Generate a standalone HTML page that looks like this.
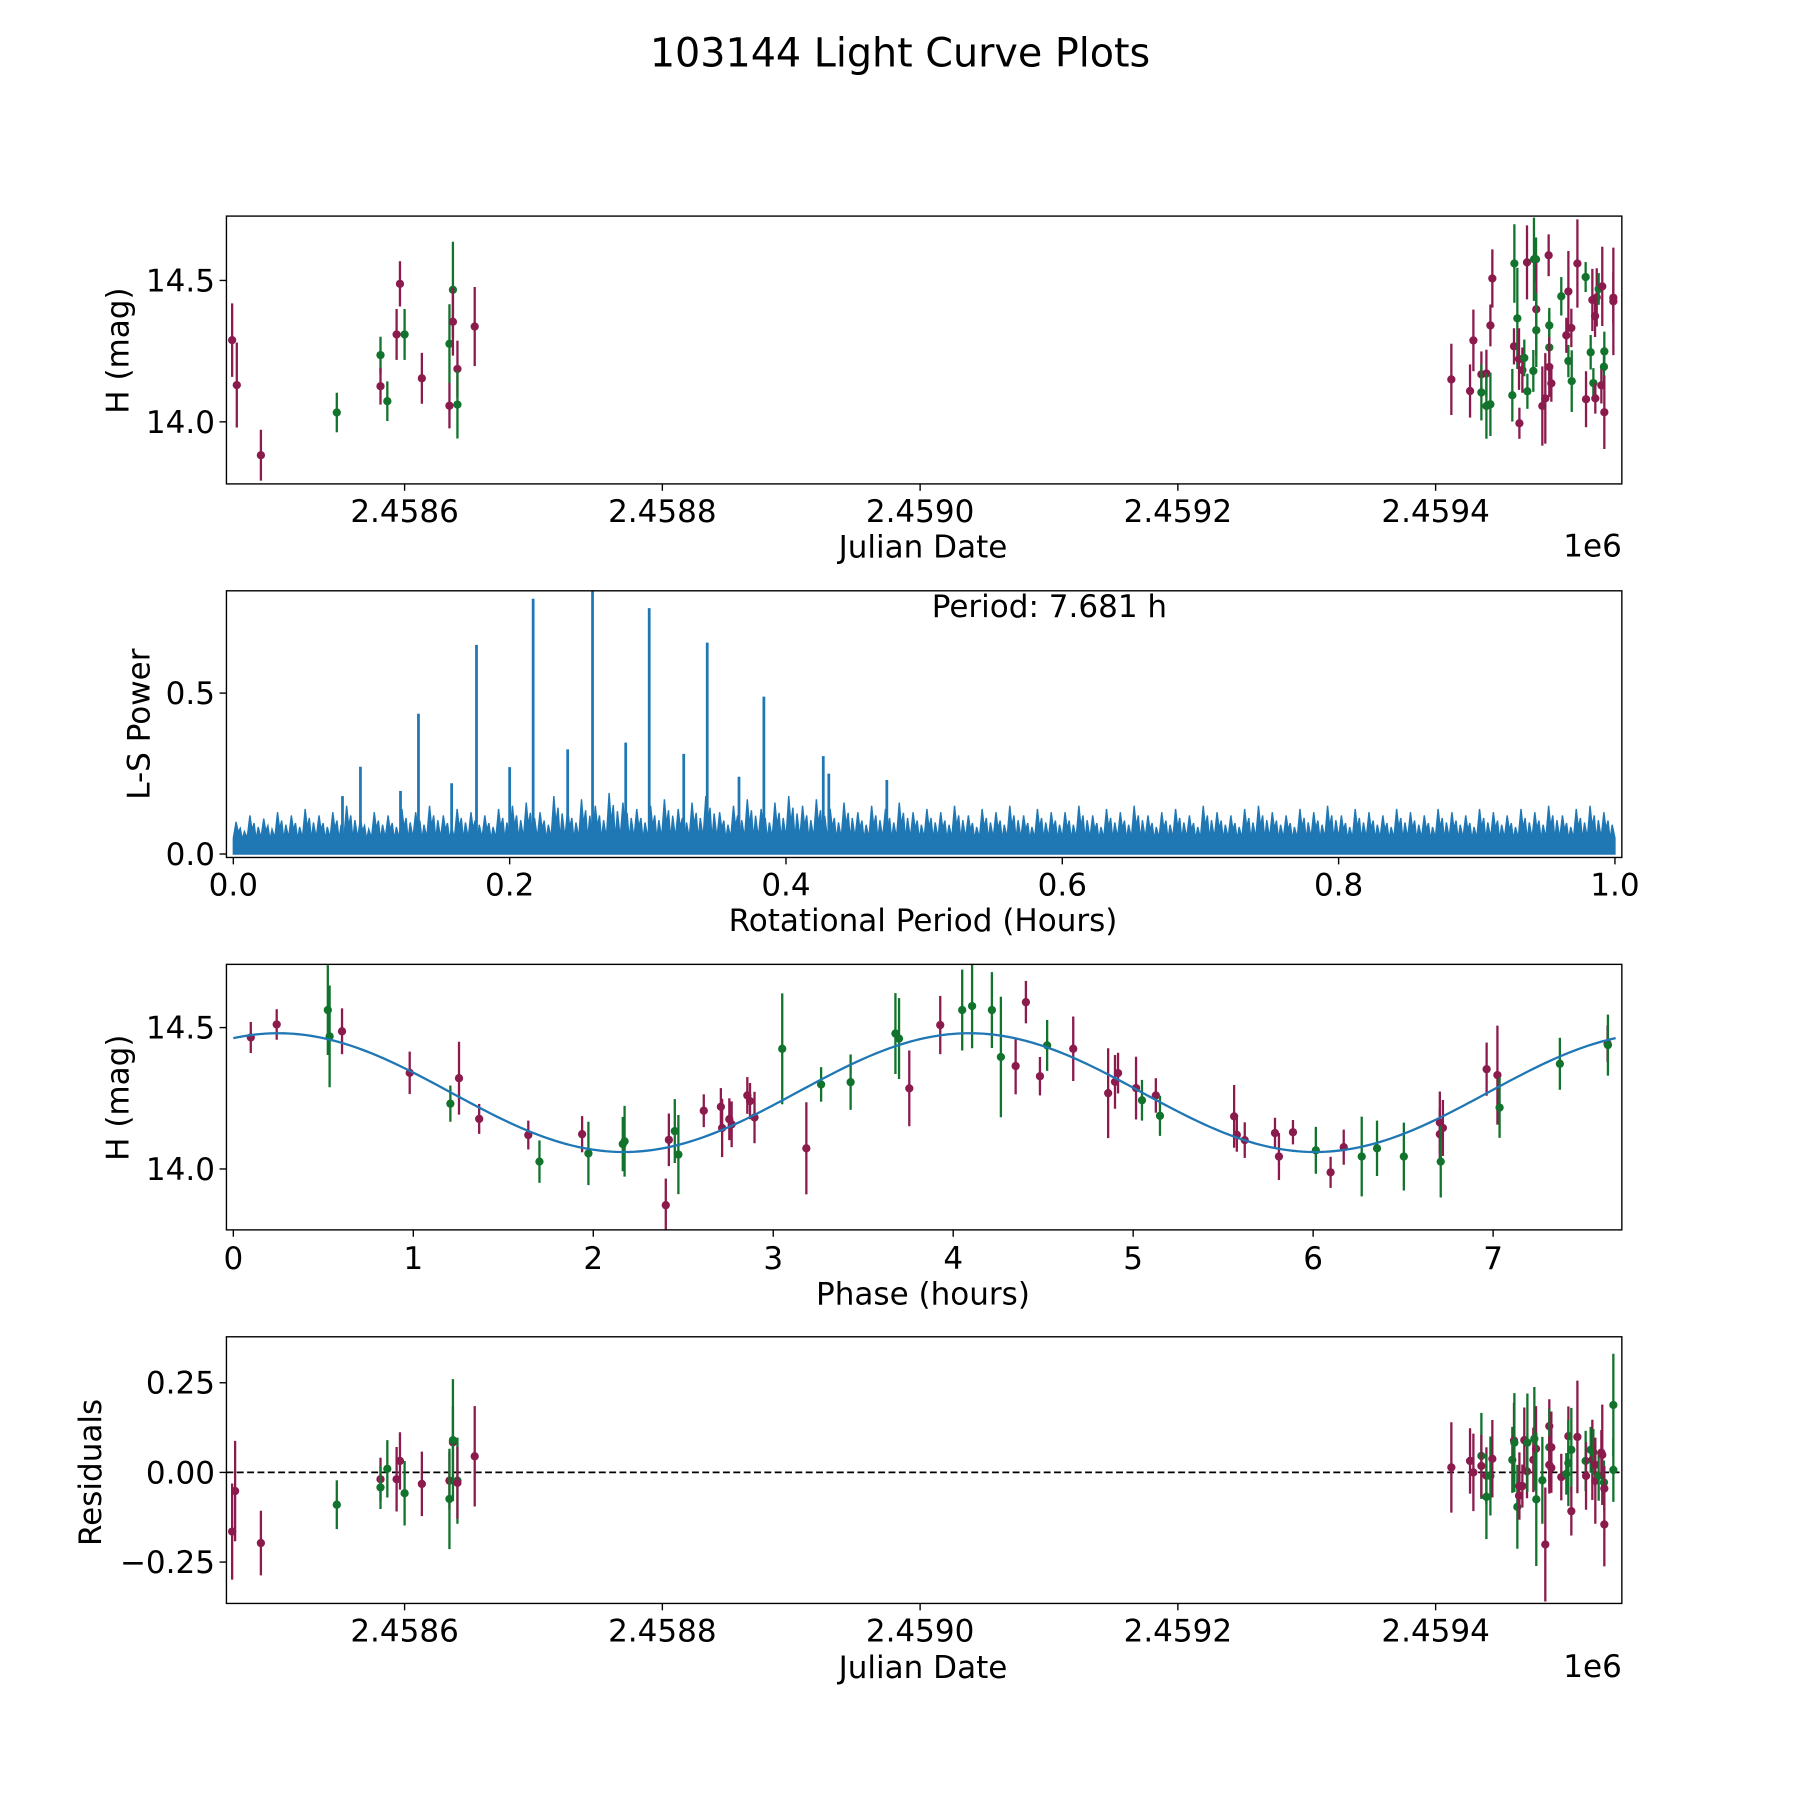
<!DOCTYPE html>
<html><head><meta charset="utf-8"><style>
html,body{margin:0;padding:0;background:#fff}
svg{display:block}
text{font-family:"DejaVu Sans","Liberation Sans",sans-serif;fill:#000}
</style></head><body>
<svg id="fig" width="1800" height="1800" viewBox="0 0 1566 1566" xmlns="http://www.w3.org/2000/svg">
<rect width="1566" height="1566" fill="#fff"/>
<text x="783" y="58" font-size="34.5" text-anchor="middle">103144 Light Curve Plots</text>
<g id="g1"></g>
<g id="g2"></g>
<g id="g3"></g>
<g id="g4"></g>
</svg>
<script>
// ---- Light curve data (panel 1)
const lcJD = [2458466.2,2458469.8,2458488.5,2458547.4,2458581.3,2458581.3,2458586.6,2458593.8,2458596.4,2458600.0,2458613.4,2458634.8,2458634.8,2458637.5,2458637.5,2458641.0,2458641.0,2458654.4,
2459412.2,2459426.7,2459429.3,2459435.5,2459435.5,2459439.4,2459439.4,2459442.5,2459442.5,2459444.0,2459459.5,2459460.8,2459461.1,2459463.4,2459464.7,2459465.0,2459467.3,2459468.8,2459470.9,2459471.2,2459475.8,2459476.3,2459477.9,2459478.1,2459478.1,2459482.8,2459485.1,2459487.7,2459488.2,2459488.2,2459488.2,2459489.8,2459497.5,2459501.4,2459503.0,2459503.0,2459505.3,2459505.6,2459510.0,2459516.4,2459516.7,2459520.3,2459521.6,2459522.4,2459523.7,2459523.9,2459525.0,2459526.5,2459528.6,2459529.3,2459530.6,2459530.9,2459530.9,2459537.9,2459537.9];
const lcMag = [14.289,14.130,13.882,14.033,14.236,14.126,14.073,14.309,14.488,14.309,14.154,14.276,14.057,14.467,14.354,14.187,14.061,14.337,
14.150,14.109,14.288,14.168,14.104,14.171,14.056,14.062,14.341,14.507,14.094,14.267,14.560,14.366,14.222,13.995,14.183,14.226,14.564,14.108,14.180,14.575,14.575,14.398,14.324,14.056,14.083,14.589,14.341,14.263,14.194,14.136,14.444,14.306,14.461,14.215,14.332,14.144,14.560,14.512,14.080,14.246,14.431,14.137,14.374,14.083,14.440,14.470,14.129,14.479,14.195,14.249,14.034,14.426,14.439];
const lcErr = [.13,.15,.09,.07,.065,.065,.07,.09,.08,.09,.09,.14,.08,.17,.12,.10,.12,.14,
.126,.094,.109,.081,.099,.084,.116,.112,.074,.103,.093,.064,.139,.179,.109,.055,.08,.065,.131,.062,.074,.147,.077,.165,.13,.14,.16,.074,.062,.127,.106,.065,.068,.062,.143,.057,.068,.109,.156,.053,.099,.061,.11,.053,.074,.054,.103,.056,.064,.14,.059,.07,.13,.19,.09];
const lcFilter = "mmmggmgmmgmgmgmmgm"+"mmmmgmggmmgmggmmmgmggggmgmmmggmmgmmgmgmgmgmgmmmgmmgg"+"m";
// ---- Periodogram data (panel 2)
const peakPeriod = [0.092,0.121,0.134,0.176,0.217,0.242,0.260,0.284,0.301,0.326,0.343,0.384,0.427,0.079,0.158,0.200,0.366,0.431,0.473];
const peakPower  = [0.271,0.196,0.436,0.650,0.793,0.325,0.821,0.346,0.764,0.311,0.657,0.489,0.304,0.18,0.22,0.27,0.24,0.25,0.23];
const noiseMax = [.10,.12,.11,.13,.12,.14,.12,.13,.15,.11, .13,.12,.14,.13,.15,.12,.14,.13,.12,.14,
.15,.16,.13,.18,.14,.17,.15,.19,.16,.14, .15,.17,.14,.16,.18,.13,.15,.17,.14,.16,
.18,.15,.17,.14,.16,.13,.15,.14,.16,.13, .14,.13,.15,.12,.14,.13,.15,.12,.14,.13,
.13,.15,.12,.14,.13,.15,.12,.13,.14,.12, .15,.13,.12,.14,.15,.13,.12,.14,.13,.15,
.12,.14,.13,.12,.14,.13,.12,.14,.13,.12, .14,.13,.12,.14,.13,.15,.12,.14,.15,.13];
const noiseFloor = [0.05];
const bestPeriod = ["7.681"];
// ---- Phased data (panel 3)
const phHours = [0.097,0.241,0.525,0.535,0.604,0.980,1.206,1.254,1.366,1.639,1.701,1.938,1.973,2.164,2.174,2.403,2.420,2.453,2.473,2.614,2.709,2.716,2.756,2.769,2.856,2.871,2.896,3.050,3.184,3.266,3.430,3.679,3.699,3.756,
3.928,4.050,4.105,4.215,4.265,4.347,4.404,4.482,4.522,4.667,4.861,4.899,4.916,5.016,5.049,5.126,5.149,5.561,5.576,5.620,5.788,5.810,5.888,6.015,6.097,6.170,6.270,6.355,6.504,6.704,6.704,6.721,6.709,6.964,7.024,7.036,7.371,7.636,7.638];
const phMag = [14.465,14.511,14.562,14.469,14.487,14.340,14.231,14.321,14.177,14.120,14.026,14.123,14.055,14.088,14.098,13.872,14.103,14.134,14.051,14.206,14.220,14.145,14.176,14.158,14.260,14.240,14.182,14.425,14.073,14.299,14.307,14.479,14.461,14.285,
14.509,14.562,14.576,14.562,14.396,14.364,14.590,14.328,14.437,14.425,14.268,14.308,14.339,14.286,14.243,14.260,14.188,14.186,14.121,14.102,14.127,14.044,14.130,14.066,13.988,14.077,14.044,14.073,14.044,14.164,14.123,14.145,14.026,14.353,14.332,14.217,14.372,14.443,14.438];
const phErr = [.055,.054,.159,.18,.081,.075,.064,.129,.053,.051,.075,.064,.112,.096,.125,.094,.093,.113,.14,.058,.066,.103,.074,.081,.065,.064,.091,.196,.163,.061,.098,.143,.143,.134,
.103,.143,.149,.134,.213,.1,.075,.068,.09,.114,.159,.095,.072,.111,.072,.061,.071,.111,.06,.063,.054,.083,.043,.083,.055,.062,.141,.098,.12,.11,.09,.099,.127,.094,.175,.107,.092,.065,.108];
const phFilter = "mmggmmgmmmgmgggmmgg"+"mmmmmmmmg"+"mggggm"+"mggggmmmgmmmmmgmgmmmmmmgmmgggmmmgmmggmg";
const fitMean=[14.27], fitAmp=[0.21], fitPeak=[0.25], fitHalfPeriod=[3.8405];
// ---- Residuals (panel 4)
const resJD = [2458466.2,2458468.5,2458488.5,2458547.4,2458581.3,2458581.3,2458586.6,2458593.8,2458596.4,2458600.0,2458613.4,2458634.8,2458634.8,2458637.5,2458637.5,2458641.0,2458641.0,2458654.4,
2459412.2,2459426.7,2459429.3,2459435.5,2459435.5,2459439.4,2459439.4,2459442.5,2459444.0,2459459.5,2459460.8,2459461.1,2459463.4,2459464.7,2459465.0,2459467.3,2459468.8,2459470.9,2459471.2,2459475.8,2459476.6,2459477.9,2459478.1,2459482.8,2459485.1,2459488.2,2459488.2,2459489.8,2459488.2,2459489.8,2459497.5,2459501.4,2459503.0,2459503.0,2459505.3,2459505.3,2459510.0,2459516.4,2459516.7,2459520.3,2459521.6,2459522.4,2459523.9,2459523.9,2459526.5,2459528.6,2459529.3,2459530.6,2459530.9,2459530.9,2459537.9,2459537.9];
const resVal = [-.165,-.052,-.197,-.090,-.019,-.042,.010,-.019,.032,-.058,-.032,-.023,-.074,.084,.090,-.023,-.029,.045,
.014,.032,.000,.046,.018,-.009,-.068,-.010,.038,.035,.089,.083,-.096,-.065,-.038,-.038,.090,.003,.083,.035,.094,.066,-.075,-.022,-.201,.129,.070,.070,.021,.013,-.013,-.004,.101,.026,.063,-.108,.099,.032,-.010,.063,.035,.056,.021,-.023,-.009,.055,.049,-.028,-.045,-.145,.188,.007];
const resErr = [.134,.14,.09,.068,.06,.06,.08,.09,.08,.09,.09,.08,.14,.1,.17,.12,.1,.14,
.126,.091,.108,.12,.087,.079,.118,.11,.108,.092,.105,.138,.117,.037,.094,.06,.091,.075,.137,.09,.144,.119,.186,.121,.159,.075,.108,.1,.08,.07,.065,.058,.083,.12,.117,.068,.157,.084,.094,.064,.112,.065,.06,.12,.07,.063,.14,.061,.063,.117,.143,.089];
const resFilter = "mmmgmggmmgmmgmggmm"+"mmmgmmggmgmggmmmmmgmgmggmmgmmmmgmggmmgmgmgmmgmmgmmggm";
</script>
<script>
const NS="http://www.w3.org/2000/svg";
const MAG="#8b1a4d", GRN="#11732c", BLUE="#1f77b4";
const FS=27;
function mk(parent,tag,attrs){const e=document.createElementNS(NS,tag);for(const k in attrs)e.setAttribute(k,attrs[k]);parent.appendChild(e);return e;}
function lin(d0,d1,p0,p1){return v=>p0+(v-d0)/(d1-d0)*(p1-p0);}
function axesBox(g,L,T,R,B){
  const r=mk(g,'rect',{x:L,y:T,width:R-L,height:B-T,fill:'none',stroke:'#000','stroke-width':1.2});
  
  
}
function xTicks(g,vals,labels,sx,B,ly){
  vals.forEach((v,i)=>{const x=sx(v);
    const t=mk(g,'line',{x1:x,x2:x,y1:B,y2:B+6,stroke:'#000','stroke-width':1.2});
    
    
    const tx=mk(g,'text',{x:x,y:ly,'font-size':FS,'text-anchor':'middle'});tx.textContent=labels[i];
    
    });
}
function yTicks(g,vals,labels,sy,L){
  vals.forEach((v,i)=>{const y=sy(v);
    const t=mk(g,'line',{x1:L-6,x2:L,y1:y,y2:y,stroke:'#000','stroke-width':1.2});
    
    
    const tx=mk(g,'text',{x:L-10,y:y+9.5,'font-size':FS,'text-anchor':'end'});tx.textContent=labels[i];
    
    });
}
function label(g,txt,x,y,rot,name){
  const t=mk(g,'text',{x:x,y:y,'font-size':FS,'text-anchor':'middle'});
  if(rot)t.setAttribute('transform',`rotate(-90 ${x} ${y})`);
  t.textContent=txt;
  
  
}
function errPts(g,xs,ys,es,cols,sx,sy,clipT,clipB){
  xs.forEach((xv,i)=>{const c=cols[i]==='g'?GRN:MAG;const x=sx(xv);
    const y1=Math.max(clipT,sy(ys[i]+es[i])), y2=Math.min(clipB,sy(ys[i]-es[i]));
    const l=mk(g,'line',{x1:x,x2:x,y1:y1,y2:y2,stroke:c,'stroke-width':2});
    
    
    const cy=sy(ys[i]);
    if(cy>=clipT-2&&cy<=clipB+2){
    const p=mk(g,'circle',{cx:x,cy:cy,r:3.6,fill:c});
    
    }
  });
}
// Panel 1
(function(){const g=document.getElementById('g1');const L=197,T=188,R=1411,B=421;
  const sx=lin(2458600,2459400,352,1249), sy=lin(14.0,14.5,367,244);
  errPts(g,lcJD,lcMag,lcErr,lcFilter,sx,sy,T,B);
  axesBox(g,L,T,R,B);
  xTicks(g,[2458600,2458800,2459000,2459200,2459400],["2.4586","2.4588","2.4590","2.4592","2.4594"],sx,B,454);
  yTicks(g,[14.0,14.5],["14.0","14.5"],sy,L);
  label(g,"Julian Date",803,485,false,'x-axis-title');
  const e=mk(g,'text',{x:1411,y:484,'font-size':FS,'text-anchor':'end'});e.textContent="1e6";
  
  
  label(g,"H (mag)",112,305,true,'y-axis-title');
})();
// Panel 2
(function(){const g=document.getElementById('g2');const L=197,T=514,R=1411,B=746;
  const sx=lin(0,1,203,1405), sy=lin(0,0.5,743,603);
  const n=noiseMax.length, step=1/n; let d=`M${sx(0)},${sy(0)}`;
  noiseMax.forEach((v,i)=>{const p=i*step;
    d+=` L${sx(p)},${sy(noiseFloor[0])} L${sx(p+step*0.2)},${sy(v)} L${sx(p+step*0.35)},${sy(noiseFloor[0]+ (v-noiseFloor[0])*0.35)} L${sx(p+step*0.5)},${sy(v*0.8)} L${sx(p+step*0.65)},${sy(noiseFloor[0]*0.9)} L${sx(p+step*0.8)},${sy(v*0.7)}`;});
  d+=` L${sx(1)},${sy(noiseFloor[0])} L${sx(1)},${sy(0)} Z`;
  const a=mk(g,'path',{d:d,fill:BLUE,stroke:BLUE,'stroke-width':1.2,'stroke-linejoin':'miter'});
  
  
  peakPeriod.forEach((p,i)=>{const x=sx(p);const y=Math.max(T,sy(peakPower[i]));
    const l=mk(g,'line',{x1:x,x2:x,y1:sy(0),y2:y,stroke:BLUE,'stroke-width':2.4});
    
    });
  axesBox(g,L,T,R,B);
  xTicks(g,[0,0.2,0.4,0.6,0.8,1.0],["0.0","0.2","0.4","0.6","0.8","1.0"],sx,B,779);
  yTicks(g,[0,0.5],["0.0","0.5"],sy,L);
  label(g,"Rotational Period (Hours)",803,810,false,'x-axis-title');
  label(g,"L-S Power",130,630,true,'y-axis-title');
  const t=mk(g,'text',{x:913,y:537,'font-size':FS,'text-anchor':'middle'});t.textContent="Period: "+bestPeriod[0]+" h";
  
  
})();
// Panel 3
(function(){const g=document.getElementById('g3');const L=197,T=839,R=1411,B=1070;
  const sx=lin(0,7,203,1299), sy=lin(14.0,14.5,1017,894);
  errPts(g,phHours,phMag,phErr,phFilter,sx,sy,T,B);
  let d='';for(let k=0;k<=300;k++){const p=k/300*7.681;const m=fitMean[0]+fitAmp[0]*Math.cos(2*Math.PI*(p-fitPeak[0])/fitHalfPeriod[0]);d+=(k?' L':'M')+sx(p)+','+sy(m);}
  const c=mk(g,'path',{d:d,fill:'none',stroke:BLUE,'stroke-width':2});
  
  
  axesBox(g,L,T,R,B);
  xTicks(g,[0,1,2,3,4,5,6,7],["0","1","2","3","4","5","6","7"],sx,B,1104);
  yTicks(g,[14.0,14.5],["14.0","14.5"],sy,L);
  label(g,"Phase (hours)",803,1135,false,'x-axis-title');
  label(g,"H (mag)",112,955,true,'y-axis-title');
})();
// Panel 4
(function(){const g=document.getElementById('g4');const L=197,T=1163,R=1411,B=1395;
  const sx=lin(2458600,2459400,352,1249), sy=lin(0,0.25,1281,1203);
  const z=mk(g,'line',{x1:L,x2:R,y1:sy(0),y2:sy(0),stroke:'#000','stroke-width':1.5,'stroke-dasharray':'6,3'});
  
  
  errPts(g,resJD,resVal,resErr,resFilter,sx,sy,T,B);
  axesBox(g,L,T,R,B);
  xTicks(g,[2458600,2458800,2459000,2459200,2459400],["2.4586","2.4588","2.4590","2.4592","2.4594"],sx,B,1428);
  yTicks(g,[-0.25,0,0.25],["\u22120.25","0.00","0.25"],sy,L);
  label(g,"Julian Date",803,1460,false,'x-axis-title');
  const e=mk(g,'text',{x:1411,y:1459,'font-size':FS,'text-anchor':'end'});e.textContent="1e6";
  
  
  label(g,"Residuals",88,1281,true,'y-axis-title');
})();
</script>
</body></html>
